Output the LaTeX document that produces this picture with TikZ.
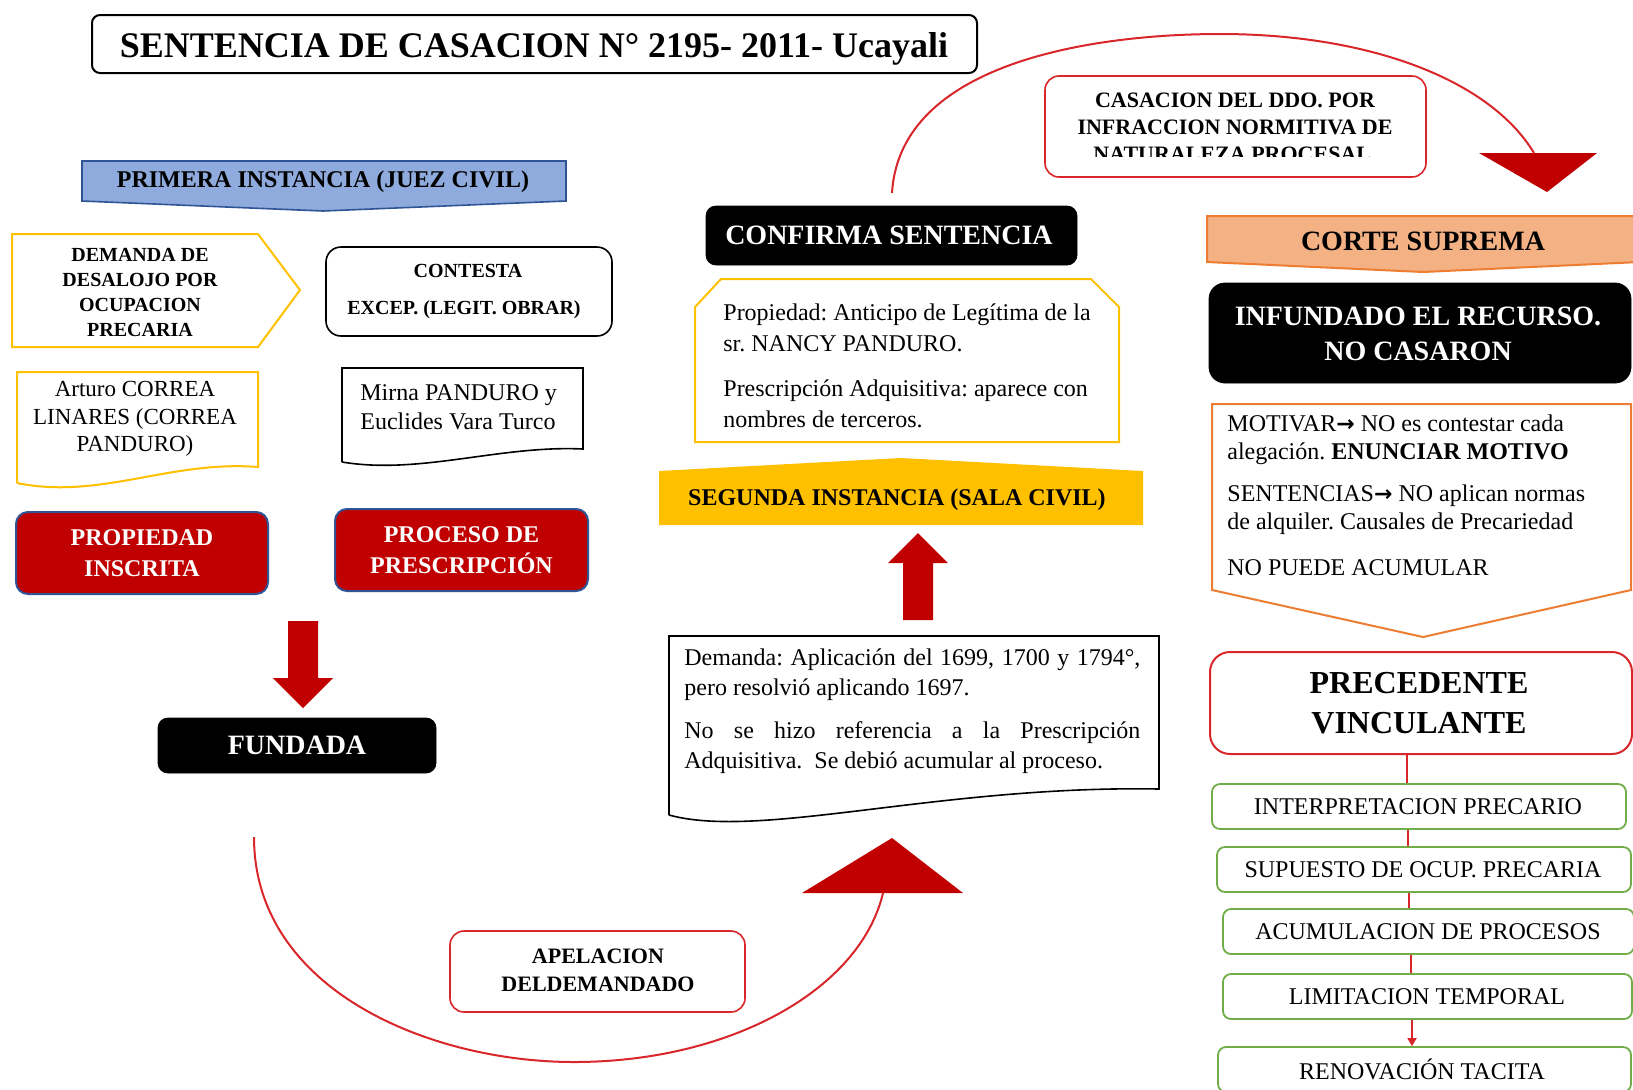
\documentclass[tikz,border=0pt]{standalone}
\usepackage{fontspec}
\setmainfont{Liberation Serif}
\newfontfamily\djv{DejaVu Sans}
\usetikzlibrary{arrows.meta,fit}
\definecolor{dred}{HTML}{C00000}
\definecolor{bred}{HTML}{D9262B}
\definecolor{gold}{HTML}{FFC000}
\definecolor{lblue}{HTML}{8FAADC}
\definecolor{nblue}{HTML}{2F5597}
\definecolor{salmon}{HTML}{F4B183}
\definecolor{orng}{HTML}{ED7D31}
\definecolor{grn}{HTML}{70AD47}
\newcommand\fsz[2]{\fontsize{#1}{#2}\selectfont}
\newcommand\rarr{{\djv\bfseries\fontsize{11}{12}\selectfont →}}
\frenchspacing
\tikzset{
  lbl/.style={inner sep=0pt, align=center},
  rbox/.style={draw, rounded corners=7pt, inner sep=0pt, line width=0.8pt},
  blackbox/.style={fill=black, draw=black, rounded corners=5pt, inner sep=0pt},
  redbox/.style={fill=dred, draw=nblue, line width=1pt, rounded corners=6pt, inner sep=0pt},
  wlbl/.style={lbl, text=white},
  greenbox/.style={draw=grn, line width=0.9pt, rounded corners=4pt, inner sep=0pt},
  glbl/.style={lbl, font=\fsz{12}{14}},
  redline/.style={draw=bred, line width=0.9pt},
  curveline/.style={draw=bred, line width=1pt},
}
\begin{document}
\begin{tikzpicture}[x=0.5pt,y=-0.5pt]
\useasboundingbox (0,0) rectangle (1633,1089);
\clip (0,0) rectangle (1633,1089);
\fill[white] (0,0) rectangle (1633,1089);

% title
\node[rbox, rounded corners=4pt, line width=1pt, fit={(92,15) (977,73)}] (titlebox) {};
\node[lbl, font=\fsz{18}{21}\bfseries] (title) at (534,49) {SENTENCIA DE CASACION N° 2195- 2011- Ucayali};

% primera instancia
\filldraw[fill=lblue, draw=nblue, line width=0.8pt] (82,161) -- (566,161) -- (566,201) -- (323,211) -- (82,201) -- cycle;
\node[lbl, font=\fsz{12}{14}\bfseries] (primera) at (323,182) {PRIMERA INSTANCIA (JUEZ CIVIL)};

% demanda pentagon
\draw[gold, line width=1pt] (12,234) -- (258,234) -- (300,290) -- (258,347) -- (12,347) -- cycle;
\node[lbl, font=\fsz{10}{12.5}\bfseries] (demanda) at (140,292) {DEMANDA DE\\DESALOJO POR\\OCUPACION\\PRECARIA};

% contesta
\node[rbox, rounded corners=7.5pt, fit={(326,247) (612,336)}] (contesta) {};
\node[lbl, font=\fsz{10}{12}\bfseries] (contA) at (468,271) {CONTESTA};
\node[lbl, font=\fsz{10}{12}\bfseries] (contB) at (464,310) {EXCEP. (LEGIT. OBRAR)};

% arturo document
\draw[gold, line width=1pt] (17,483) -- (17,372) -- (258,372) -- (258,467) .. controls (170,460) and (100,500) .. (17,483);
\node[lbl, font=\fsz{11.5}{13.7}] (arturo) at (135,419) {Arturo CORREA\\LINARES (CORREA\\PANDURO)};

% mirna document
\draw[black, line width=0.8pt] (342,462) -- (342,368) -- (583,368) -- (583,449) .. controls (500,445) and (420,475) .. (342,462);
\node[lbl, align=left, anchor=west, font=\fsz{12}{14.5}] (mirna) at (360,407) {Mirna PANDURO y\\Euclides Vara Turco};

% red boxes
\node[redbox, fit={(16,512) (268,594)}] (propbox) {};
\node[wlbl, font=\fsz{12}{15.5}\bfseries] (propiedad) at (propbox.center) {PROPIEDAD\\INSCRITA};
\node[redbox, fit={(335,509) (588,591)}] (procbox) {};
\node[wlbl, font=\fsz{12}{15.5}\bfseries] (proceso) at (procbox.center) {PROCESO DE\\PRESCRIPCIÓN};

% down block arrow
\fill[dred] (288,621) -- (318,621) -- (318,678) -- (333,678) -- (303,708) -- (273,678) -- (288,678) -- cycle;

% fundada
\node[blackbox, fit={(158,718) (436,773)}] (fundbox) {};
\node[wlbl, font=\fsz{14}{16}\bfseries] (fundada) at (fundbox.center) {FUNDADA};

% bottom curve
\coordinate (c1) at (254,837);
\coordinate (c2) at (883,893);
\draw[curveline] (c1) .. controls (254,990) and (430,1062) .. (574,1062) .. controls (730,1062) and (860,990) .. (c2);
\fill[dred] (802,893) -- (892,838) -- (963,893) -- cycle;

% apelacion
\node[rbox, draw=bred, fit={(450,931) (745,1012)}] (apelbox) {};
\node[lbl, font=\fsz{11}{14}\bfseries] (apel) at (598,970) {APELACION\\DELDEMANDADO};

% confirma
\node[blackbox, fit={(706,206) (1077,265)}] (confbox) {};
\node[wlbl, font=\fsz{14}{16}\bfseries] (confirma) at (889,235) {CONFIRMA SENTENCIA};

% propiedad chamfer box
\draw[gold, line width=1pt] (695,307) -- (721,279) -- (1091,279) -- (1119,307) -- (1119,442) -- (695,442) -- cycle;
\node[lbl, align=left, anchor=west, font=\fsz{12}{15.5}] (prop) at (723,366) {Propiedad: Anticipo de Legítima de la\\sr. NANCY PANDURO.\\[7pt]Prescripción Adquisitiva: aparece con\\nombres de terceros.};

% segunda instancia
\fill[gold] (659,471) -- (901,458) -- (1143,471) -- (1143,525) -- (659,525) -- cycle;
\node[lbl, font=\fsz{12}{14}\bfseries] (segunda) at (897,500) {SEGUNDA INSTANCIA (SALA CIVIL)};

% up block arrow
\fill[dred] (903,620) -- (933,620) -- (933,563) -- (948,563) -- (918,533) -- (888,563) -- (903,563) -- cycle;

% demanda document
\draw[black, line width=0.8pt] (669,815) -- (669,636) -- (1159,636) -- (1159,789) .. controls (940,785) and (760,840) .. (669,815);
\node[lbl, align=justify, text width=228pt, anchor=north west, font=\fsz{12}{15}] (dem) at (684,648) {\hyphenpenalty=10000 \exhyphenpenalty=10000 \tolerance=10000 Demanda: Aplicación del 1699, 1700 y 1794°, pero resolvió aplicando 1697.\par\vspace{6.5pt}No se hizo referencia a la Prescripción\linebreak Adquisitiva.\ \ Se debió acumular al proceso.\par};

% top curve
\coordinate (t1) at (892,193);
\coordinate (t2) at (1534,153);
\draw[curveline] (t1) .. controls (900,60) and (1100,34) .. (1220,34) .. controls (1370,34) and (1490,80) .. (t2);
\fill[dred] (1479,153) -- (1597,153) -- (1547,192) -- cycle;

% casacion
\node[rbox, draw=bred, fit={(1045,76) (1426,177)}] (casbox) {};
\begin{scope}
\clip (1045,76) rectangle (1426,156);
\node[lbl, font=\fsz{11}{13.5}\bfseries] (cas) at (1235,127) {CASACION DEL DDO. POR\\INFRACCION NORMITIVA DE\\NATURALEZA PROCESAL.};
\end{scope}

% corte suprema
\filldraw[fill=salmon, draw=orng, line width=1pt] (1207,216) -- (1640,216) -- (1640,262) -- (1423,272) -- (1207,262) -- cycle;
\node[lbl, font=\fsz{14}{16}\bfseries] (corte) at (1423,241) {CORTE SUPREMA};

% infundado
\node[blackbox, rounded corners=8pt, fit={(1209,283) (1631,383)}] (infbox) {};
\node[wlbl, font=\fsz{14}{17.5}\bfseries] (infundado) at (1418,334) {INFUNDADO EL RECURSO.\\NO CASARON};

% motivar
\draw[orng, line width=1pt] (1212,404) -- (1631,404) -- (1631,590) -- (1423,637) -- (1212,590) -- cycle;
\node[lbl, align=left, anchor=north west, font=\fsz{12}{14}] (motivar) at (1227,414) {MOTIVAR\rarr{} NO es contestar cada\\alegación. \textbf{ENUNCIAR MOTIVO}\\[7pt]SENTENCIAS\rarr{} NO aplican normas\\de alquiler. Causales de Precariedad\\[9pt]NO PUEDE ACUMULAR};

% precedente
\node[rbox, draw=bred, rounded corners=10pt, line width=1pt, fit={(1210,652) (1632,754)}] (precbox) {};
\node[lbl, font=\fsz{16}{20}\bfseries] (prec) at (1419,703) {PRECEDENTE\\VINCULANTE};

% green boxes
\node[greenbox, fit={(1212,784) (1626,829)}] (g1) {};
\node[glbl] (g1t) at (1418,807) {INTERPRETACION PRECARIO};
\node[greenbox, fit={(1217,847) (1631,892)}] (g2) {};
\node[glbl] (g2t) at (1423,870) {SUPUESTO DE OCUP. PRECARIA};
\node[greenbox, fit={(1223,909) (1634,954)}] (g3) {};
\node[glbl] (g3t) at (1428,932) {ACUMULACION DE PROCESOS};
\node[greenbox, fit={(1223,974) (1632,1019)}] (g4) {};
\node[glbl] (g4t) at (1427,997) {LIMITACION TEMPORAL};
\node[greenbox, fit={(1218,1047) (1631,1092)}] (g5) {};
\node[glbl] (g5t) at (1422,1069) {RENOVACIÓN TACITA};

\coordinate (l1) at (1407,0);
\coordinate (l2) at (1408,0);
\coordinate (l3) at (1409,0);
\coordinate (l4) at (1411,0);
\coordinate (l5) at (1412,0);
\draw[redline] (l1 |- precbox.south) -- (l1 |- g1.north);
\draw[redline] (l2 |- g1.south) -- (l2 |- g2.north);
\draw[redline] (l3 |- g2.south) -- (l3 |- g3.north);
\draw[redline] (l4 |- g3.south) -- (l4 |- g4.north);
\draw[redline, -{Triangle[length=4pt,width=4.5pt]}] (l5 |- g4.south) -- (l5 |- g5.north);
\end{tikzpicture}
\end{document}
